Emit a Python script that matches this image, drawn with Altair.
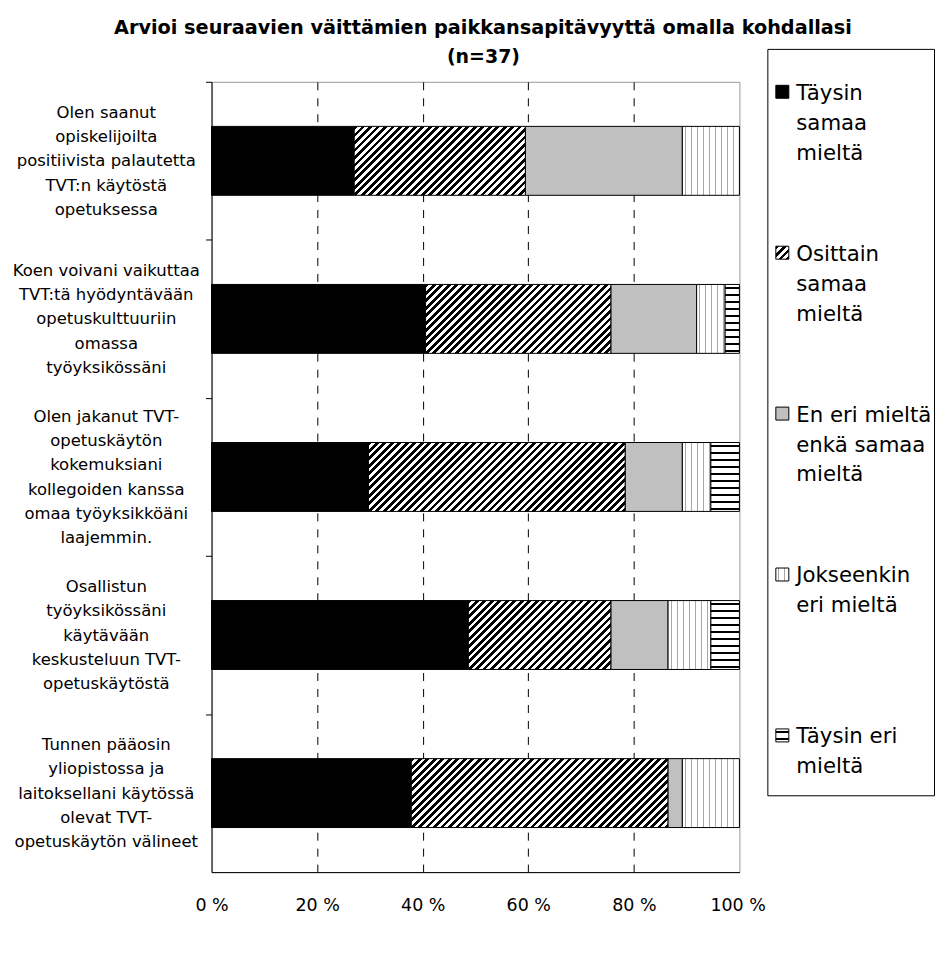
import altair as alt
import pandas as pd

# ---------------- data ----------------
rows = [
    "Olen saanut|opiskelijoilta|positiivista palautetta|TVT:n käytöstä|opetuksessa",
    "Koen voivani vaikuttaa|TVT:tä hyödyntävään|opetuskulttuuriin|omassa|työyksikössäni",
    "Olen jakanut TVT-|opetuskäytön|kokemuksiani|kollegoiden kanssa|omaa työyksikköäni|laajemmin.",
    "Osallistun|työyksikössäni|käytävään|keskusteluun  TVT-|opetuskäytöstä",
    "Tunnen pääosin|yliopistossa ja|laitoksellani käytössä|olevat TVT-|opetuskäytön välineet",
]
categories = [
    "Täysin samaa mieltä",
    "Osittain samaa mieltä",
    "En eri mieltä enkä samaa mieltä",
    "Jokseenkin eri mieltä",
    "Täysin eri mieltä",
]
legend_labels = [
    "Täysin|samaa|mieltä",
    "Osittain|samaa|mieltä",
    "En eri mieltä|enkä samaa|mieltä",
    "Jokseenkin|eri mieltä",
    "Täysin eri|mieltä",
]
taysin_samaa = [27.0, 40.5, 29.7, 48.6, 37.8]
osittain_samaa = [32.4, 35.1, 48.6, 27.0, 48.6]
en_eri_en_samaa = [29.7, 16.2, 10.8, 10.8, 2.7]
jokseenkin_eri = [10.8, 5.4, 5.4, 8.1, 10.8]
taysin_eri = [0.0, 2.7, 5.4, 5.4, 0.0]
series = [taysin_samaa, osittain_samaa, en_eri_en_samaa, jokseenkin_eri, taysin_eri]

title_text = "Arvioi seuraavien väittämien paikkansapitävyyttä omalla kohdallasi"
subtitle_text = "(n=37)"
tick_values = [0, 0.2, 0.4, 0.6, 0.8, 1.0]

# ---------------- geometry / style ----------------
PLOT_W, PLOT_H = 529, 792
P_IN, P_OUT = 0.564, 0.282
STEP = PLOT_H / (len(rows) - P_IN + 2 * P_OUT)
BAR_H = STEP * (1 - P_IN)
TICK_OFF = -P_IN * STEP / 2
GREY = "#c0c0c0"
LINE_H = 24.3


def stripe_stops(L, segs):
    stops, pos = [], 0.0
    while pos < L - 1e-9:
        for ln, col in segs:
            a = min(pos, L)
            b = min(pos + ln, L)
            if b > a:
                stops.append((a, col))
                stops.append((b, col))
            pos += ln
    return [{"offset": round(o / L, 5), "color": c} for o, c in stops]


def hatch(w, h, period=7.5):
    s = (w + h) / (w * w + h * h)
    return {"gradient": "linear", "x1": 0, "y1": 0, "x2": w * s, "y2": h * s,
            "stops": stripe_stops(w + h, [(period / 2, "black"), (period / 2, "white")])}


def dots(w, period=6.0):
    return {"gradient": "linear", "x1": 0, "y1": 0, "x2": 1, "y2": 0,
            "stops": stripe_stops(w, [(period / 2 - 0.5, "white"), (1.0, "#a8a8a8"),
                                      (period / 2 - 0.5, "white")])}


def waves(h, period=7.0):
    return {"gradient": "linear", "x1": 0, "y1": 0, "x2": 0, "y2": 1,
            "stops": stripe_stops(h, [(period * 0.35, "white"), (period * 0.3, "black"),
                                      (period * 0.35, "white")])}


def fill_for(ci, w, h):
    if ci == 0:
        return "black"
    if ci == 1:
        return hatch(w, h)
    if ci == 2:
        return GREY
    if ci == 3:
        return dots(w)
    return waves(h)


recs, conds = [], []
for ri, r in enumerate(rows):
    total = sum(s[ri] for s in series)
    for ci, c in enumerate(categories):
        v = series[ci][ri]
        if v <= 0:
            continue
        recs.append({"row": r, "ri": ri, "cat": c, "ci": ci, "pct": v})
        w = v / total * PLOT_W
        conds.append({"test": f"datum.ri === {ri} && datum.ci === {ci}",
                      "value": fill_for(ci, w, BAR_H)})
df = pd.DataFrame(recs)

# labels are shifted by the tick offset too: compensate, and centre multi-line blocks
max_lines = max(len(r.split("|")) for r in rows)
label_offset = {
    "condition": {"test": f"length(split(datum.value, '|')) == {max_lines}",
                  "value": -(max_lines - 1) / 2 * LINE_H - TICK_OFF},
    "value": -(5 - 1) / 2 * LINE_H - TICK_OFF,
}
last_tick = "datum.value >= 0.999"

main = alt.Chart(df).mark_bar(stroke="black", strokeWidth=1).encode(
    x=alt.X("pct:Q", stack="normalize", title=None,
            scale=alt.Scale(domain=[0, 1], nice=False),
            axis=alt.Axis(values=tick_values, labelExpr="round(datum.value*100) + ' %'",
                          labelFlush=False, ticks=False, tickSize=0, labelPadding=24,
                          labelAlign={"condition": {"test": last_tick, "value": "right"}, "value": "center"},
                          labelOffset={"condition": {"test": last_tick, "value": 26}, "value": 0},
                          labelFont="DejaVu Sans", labelFontSize=17.5, labelColor="black",
                          domainColor="black",
                          grid=True, gridColor="black", gridDash=[8, 8], gridWidth=1,
                          gridOpacity={"condition": {"test": "datum.value <= 0.001 || datum.value >= 0.999",
                                                     "value": 0}, "value": 1})),
    y=alt.Y("row:N", sort=rows, title=None,
            scale=alt.Scale(paddingInner=P_IN, paddingOuter=P_OUT),
            axis=alt.Axis(labelExpr="split(datum.label, '|')", labelAlign="center",
                          labelBaseline="middle", labelLineHeight=LINE_H, labelPadding=100,
                          labelOffset=label_offset,
                          ticks=True, tickSize=6, tickColor="black", bandPosition=0,
                          tickOffset=TICK_OFF,
                          labelFont="DejaVu Sans", labelFontSize=16.5,
                          labelColor="black", labelLimit=0, domainColor="black",
                          minExtent=200, maxExtent=200, grid=False)),
    order=alt.Order("ci:Q", sort="ascending"),
    fill=alt.FillValue("black", condition=conds),
).properties(
    width=PLOT_W, height=PLOT_H,
    view=alt.ViewBackground(stroke="#999999", strokeWidth=1),
)

header = alt.Chart(pd.DataFrame({"t": [subtitle_text]})).mark_text(
    font="DejaVu Sans", fontSize=19, fontWeight="bold", color="black", dx=8, dy=-7
).encode(text="t:N").properties(
    width=PLOT_W, height=31, view=alt.ViewBackground(stroke="transparent")
)

left = alt.vconcat(header, main, spacing=0)

# ---------------- custom legend ----------------
SYM = 13
ldf = pd.DataFrame({"li": list(range(len(legend_labels))), "label": legend_labels})
lconds = [{"test": f"datum.li === {i}", "value": fill_for(i, SYM, SYM)} for i in range(len(legend_labels))]
LEG_H = 748
first, step = 43.0, 161.25
ydom = [-first / step, (LEG_H - first) / step]
base = alt.Chart(ldf).encode(
    y=alt.Y("li:Q", axis=None, scale=alt.Scale(domain=ydom, reverse=True, nice=False, zero=False))
)
sym = base.mark_square(size=SYM * SYM, stroke="black", strokeWidth=1, opacity=1).encode(
    x=alt.value(15), fill=alt.FillValue("black", condition=lconds)
)
txt = base.mark_text(align="left", baseline="alphabetic", dy=8, lineBreak="|",
                     font="DejaVu Sans", fontSize=21.3, lineHeight=30, color="black").encode(
    x=alt.value(29), text="label:N"
)
legend = alt.layer(sym, txt).properties(
    width=167, height=LEG_H, view=alt.ViewBackground(stroke="black", strokeWidth=1)
)

chart = alt.hconcat(left, legend, spacing=0).properties(
    title=alt.TitleParams(title_text, font="DejaVu Sans", fontSize=19.3, fontWeight="bold",
                          color="black", anchor="middle", offset=10, dx=10),
    padding={"left": 11, "top": 17, "right": 0, "bottom": 5},
    background="white",
)

chart.save("out.html", embed_options={"renderer": "svg", "actions": False})
